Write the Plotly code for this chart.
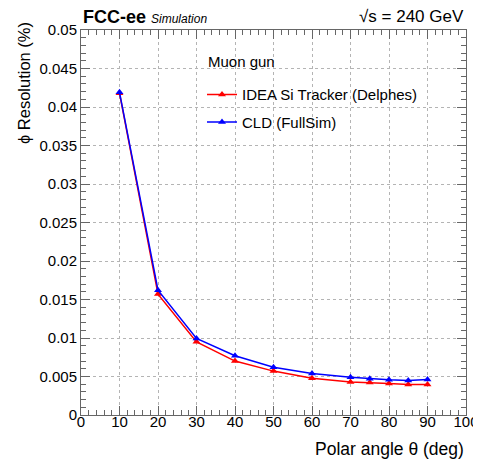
import plotly.graph_objects as go

theta = [10, 20, 30, 40, 50, 60, 70, 75, 80, 85, 90]
idea_delphes = [0.0418, 0.0157, 0.0095, 0.0070, 0.0057, 0.00476, 0.0043, 0.00423, 0.0041, 0.00397, 0.00397]
cld_fullsim = [0.0419, 0.0162, 0.00995, 0.0077, 0.0062, 0.0054, 0.0049, 0.00472, 0.00457, 0.00449, 0.00462]

x_ticks = [0, 10, 20, 30, 40, 50, 60, 70, 80, 90, 100]
y_ticks = [0, 0.005, 0.01, 0.015, 0.02, 0.025, 0.03, 0.035, 0.04, 0.045, 0.05]
y_ticklabels = ["0", "0.005", "0.01", "0.015", "0.02", "0.025", "0.03", "0.035", "0.04", "0.045", "0.05"]

FONT = "Liberation Sans, Arial, Helvetica, sans-serif"

fig = go.Figure()
fig.add_trace(go.Scatter(
    x=theta, y=idea_delphes, mode="lines+markers", name="IDEA Si Tracker (Delphes)",
    line=dict(color="#ff0000", width=1.5),
    marker=dict(symbol="triangle-up", size=7, color="#ff0000"),
    legendgroup="a",
))
fig.add_trace(go.Scatter(
    x=theta, y=cld_fullsim, mode="lines+markers", name="CLD (FullSim)",
    line=dict(color="#0000ff", width=1.5),
    marker=dict(symbol="triangle-up", size=7, color="#0000ff"),
    legendgroup="b",
))

axis_common = dict(
    showline=True, linecolor="#666666", linewidth=1, mirror="allticks",
    ticks="inside", tickcolor="#666666", ticklen=9, tickwidth=1,
    showgrid=True, gridcolor="#b4b4b4", griddash="3px,3px", gridwidth=1,
    zeroline=False, automargin=False,
    tickfont=dict(family=FONT, size=15, color="#000000"),
)

fig.update_xaxes(
    range=[0, 100], tickvals=x_ticks, ticktext=[str(v) for v in x_ticks],
    minor=dict(ticks="inside", ticklen=5, dtick=2, tickcolor="#666666", showgrid=False),
    ticklabelstandoff=-7,
    **axis_common,
)
fig.update_yaxes(
    range=[0, 0.05], tickvals=y_ticks, ticktext=y_ticklabels,
    minor=dict(ticks="inside", ticklen=5, dtick=0.001, tickcolor="#666666", showgrid=False),
    **axis_common,
)

fig.update_layout(
    width=473, height=456,
    margin=dict(l=73, r=15, t=22, b=49),
    paper_bgcolor="white", plot_bgcolor="white",
    font=dict(family=FONT, size=15, color="#000000"),
    showlegend=True,
    legend=dict(
        x=0.3143, y=0.8745, xanchor="left", yanchor="top",
        bgcolor="rgba(0,0,0,0)", borderwidth=0,
        font=dict(family=FONT, size=15),
        tracegroupgap=5,
        itemwidth=30,
    ),
    annotations=[
        dict(text="Muon gun",
             xref="paper", yref="paper", x=0.3247, y=0.917, xanchor="left", yanchor="middle",
             showarrow=False, font=dict(family=FONT, size=15)),
        dict(text="<b>FCC-ee</b> <i><span style='font-size:12px'>Simulation</span></i>",
             xref="paper", yref="paper", x=0, y=1, xanchor="left", yanchor="bottom",
             yshift=1, showarrow=False, font=dict(family=FONT, size=18)),
        dict(text="√s = 240 GeV",
             xref="paper", yref="paper", x=1, y=1, xanchor="right", yanchor="bottom",
             yshift=2, showarrow=False, font=dict(family=FONT, size=17)),
        dict(text="Polar angle θ (deg)",
             xref="paper", yref="paper", x=1, y=0, xanchor="right", yanchor="middle",
             yshift=-34, showarrow=False, font=dict(family=FONT, size=17.5)),
        dict(text="ϕ Resolution (%)", textangle=-90,
             xref="paper", yref="paper", x=0, y=1, xanchor="center", yanchor="top",
             xshift=-57, yshift=10, showarrow=False, font=dict(family=FONT, size=16.5)),
    ],
)

fig.write_html("out.html")
